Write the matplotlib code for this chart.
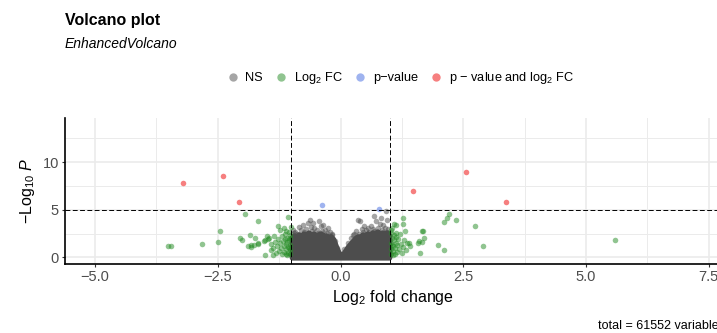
import matplotlib.pyplot as plt
from matplotlib.lines import Line2D

plt.rcParams['font.family'] = ['Liberation Sans', 'DejaVu Sans']
plt.rcParams['mathtext.fontset'] = 'custom'
plt.rcParams['mathtext.rm'] = 'Liberation Sans'
plt.rcParams['mathtext.it'] = 'Liberation Sans:italic'
plt.rcParams['mathtext.bf'] = 'Liberation Sans:bold'

# --- Données ---
# masse dense des points NS (haut de l'enveloppe, par x)
ns_env_x = [-0.99, -0.95, -0.9, -0.85, -0.8, -0.75, -0.7, -0.65, -0.6, -0.55, -0.5,
            -0.45, -0.4, -0.35, -0.3, -0.25, -0.2, -0.15, -0.1, -0.05, 0.0, 0.05,
            0.1, 0.15, 0.2, 0.25, 0.3, 0.35, 0.4, 0.45, 0.5, 0.55, 0.6, 0.65, 0.7,
            0.75, 0.8, 0.85, 0.9, 0.95, 0.99]
ns_env_top = [2.1, 2.3, 2.0, 2.4, 2.2, 2.5, 2.2, 2.6, 2.3, 2.5, 2.2,
              2.4, 2.5, 2.2, 2.3, 2.1, 2.2, 1.9, 1.2, 0.6, 0.15, 0.35,
              0.7, 1.1, 1.4, 1.7, 2.0, 2.2, 2.1, 2.4, 2.3, 2.5, 2.4, 2.6, 2.4,
              2.7, 2.5, 2.6, 2.4, 2.6, 2.3]

# points NS isolés au bord de la masse
ns_x = [-0.97, -0.92, -0.85, -0.80, -0.77, -0.70, -0.67, -0.63, -0.60, -0.56, -0.53,
        -0.48, -0.44, -0.40, -0.36, -0.32, -0.26, -0.22, -0.17, -0.12, -0.08,
        -0.95, -0.88, -0.74, -0.58, -0.45, -0.38, -0.28, -0.18,
        0.08, 0.15, 0.22, 0.28, 0.32, 0.35, 0.40, 0.43, 0.48, 0.52, 0.55, 0.62,
        0.66, 0.69, 0.72, 0.76, 0.80, 0.83, 0.86, 0.90, 0.93, 0.95, 0.97,
        0.25, 0.38, 0.45, 0.58, 0.68, 0.74, 0.85, 0.92]
ns_y = [2.9, 2.7, 3.15, 2.9, 3.43, 3.0, 3.6, 3.96, 3.2, 3.6, 3.08,
        2.9, 3.78, 3.3, 3.43, 2.9, 3.08, 2.7, 2.4, 1.7, 1.0,
        2.6, 2.5, 2.7, 2.8, 2.6, 2.8, 2.6, 2.3,
        0.9, 1.5, 2.0, 2.4, 2.8, 3.96, 3.78, 3.0, 3.3, 2.9, 3.08, 3.25,
        3.0, 4.3, 3.78, 3.1, 3.5, 4.13, 3.43, 3.1, 4.83, 3.9, 3.0,
        2.3, 2.5, 2.7, 2.7, 2.8, 2.7, 2.9, 2.7]

# Log2 FC seulement
fc_x = [-3.51, -3.46, -2.82, -2.49, -2.46, -1.94, -2.05, -2.00, -1.85, -1.75, -1.89,
        -1.82, -1.68, -1.68, -1.54, -1.83, -1.76, -1.69, -1.56, -1.54, -1.41,
        -1.02, -1.03, -1.02, -1.04, -1.03, -1.05, -1.06, -1.07, -1.08, -1.09, -1.10,
        -1.11, -1.12, -1.13, -1.14, -1.15, -1.16, -1.18, -1.19, -1.20, -1.21, -1.23,
        -1.24, -1.25, -1.27, -1.28, -1.30, -1.31, -1.33, -1.35, -1.37, -1.38, -1.42,
        -1.45, -1.47, -1.50, -1.16, -1.06, -1.01, -1.04, -1.02, -1.08, -1.12,
        1.02, 1.03, 1.02, 1.04, 1.03, 1.05, 1.06, 1.07, 1.08, 1.09, 1.10, 1.11,
        1.12, 1.13, 1.14, 1.15, 1.16, 1.18, 1.20, 1.21, 1.23, 1.25, 1.27, 1.27,
        1.28, 1.30, 1.31, 1.33, 1.35, 1.40, 1.42, 1.08, 1.04, 1.02, 1.06, 1.13,
        1.62, 1.59, 1.66, 1.71, 1.65, 1.57, 1.67, 1.98, 2.11, 2.11, 2.16, 2.20,
        2.35, 2.73, 2.91, 5.58]
fc_y = [1.2, 1.2, 1.41, 1.62, 2.77, 4.55, 2.03, 1.86, 2.38, 2.03, 1.15,
        1.33, 1.51, 3.78, 1.78, 1.12, 1.26, 1.4, 1.72, 0.25, 0.81,
        0.3, 0.8, 1.3, 1.8, 2.3, 2.7, 0.5, 1.1, 1.6, 2.0, 0.3,
        0.9, 1.4, 2.4, 1.9, 0.6, 1.2, 1.7, 0.4, 2.2, 1.0, 1.5,
        2.9, 0.7, 3.25, 1.9, 1.2, 0.5, 1.6, 2.2, 0.25, 1.0, 1.4,
        2.0, 1.9, 2.2, 3.04, 4.27, 3.2, 1.0, 2.0, 0.2, 2.8,
        0.4, 0.9, 1.5, 2.0, 2.6, 3.1, 0.7, 1.2, 1.8, 2.3, 0.3, 1.0,
        3.43, 1.5, 2.1, 0.6, 1.3, 1.9, 0.9, 2.5, 1.4, 0.5, 4.17, 3.54,
        1.1, 1.86, 2.8, 0.8, 1.5, 1.51, 1.2, 3.5, 1.3, 2.9, 0.2, 2.6,
        0.42, 1.75, 1.62, 2.03, 2.77, 1.51, 2.73, 1.33, 0.81, 3.67, 4.09, 4.55,
        3.96, 3.29, 1.2, 1.86]

# p-value seulement
p_x = [-0.37, 0.78]
p_y = [5.5, 5.05]

# p-value et Log2 FC
both_x = [-3.20, -2.40, -2.07, 1.47, 2.56, 3.38]
both_y = [7.81, 8.54, 5.84, 7.0, 8.92, 5.84]

fc_cut = 1
p_cut = 5
n_total = 61552

couleurs = ['#4d4d4d', '#228b22', '#4169e1', '#ee0000']
noms = ['NS', 'Log$_{2}$ FC', 'p\u2212value', 'p \u2212 value and log$_{2}$ FC']

# --- Figure ---
fig = plt.figure(figsize=(7.17, 3.33), dpi=100)
ax = fig.add_axes([0.0907, 0.2072, 0.915, 0.4384])

ax.fill_between(ns_env_x, 0, ns_env_top, color=couleurs[0], lw=4,
                edgecolor=couleurs[0], joinstyle='round', zorder=2)
ax.scatter(ns_x, ns_y, s=16, color=couleurs[0], alpha=0.5, lw=0, zorder=3)
ax.scatter(fc_x, fc_y, s=16, color=couleurs[1], alpha=0.5, lw=0, zorder=3)
ax.scatter(p_x, p_y, s=16, color=couleurs[2], alpha=0.5, lw=0, zorder=3)
ax.scatter(both_x, both_y, s=16, color=couleurs[3], alpha=0.5, lw=0, zorder=3)

# seuils
ax.axvline(-fc_cut, color='black', ls=(0, (5, 2.5)), lw=0.7, zorder=4)
ax.axvline(fc_cut, color='black', ls=(0, (5, 2.5)), lw=0.7, zorder=4)
ax.axhline(p_cut, color='black', ls=(0, (5, 2.5)), lw=0.7, zorder=4)

# --- Axes ---
ax.set_xlim(-5.61, 7.75)
ax.set_ylim(-0.70, 14.62)
ax.set_xticks([-5, -2.5, 0, 2.5, 5, 7.5])
ax.set_xticks([-3.75, -1.25, 1.25, 3.75, 6.25], minor=True)
ax.set_yticks([0, 5, 10])
ax.set_yticks([2.5, 7.5, 12.5], minor=True)
ax.grid(True, which='major', color='#ebebeb', lw=1.2, zorder=0)
ax.grid(True, which='minor', color='#ebebeb', lw=0.7, zorder=0)
ax.set_axisbelow(True)
ax.tick_params(which='major', length=2.5, width=0.8, color='#333333',
               labelsize=10.5, labelcolor='#4d4d4d', pad=2)
ax.tick_params(which='minor', length=0)
for c in ['top', 'right']:
    ax.spines[c].set_visible(False)
for c in ['left', 'bottom']:
    ax.spines[c].set_linewidth(1.2)
    ax.spines[c].set_color('black')

ax.set_xlabel('Log$_{2}$ fold change', fontsize=11.5, labelpad=3)
ax.set_ylabel('\u2212Log$_{10}$ $P$', fontsize=11.5, labelpad=4)

# --- Titres ---
fig.text(65 / 717, 1 - 20 / 333, 'Volcano plot', fontsize=11.5, fontweight='bold',
         va='center', ha='left')
fig.text(65 / 717, 1 - 44 / 333, 'EnhancedVolcano', fontsize=10, style='italic',
         va='center', ha='left')
fig.text(725 / 717, 1 - 326 / 333, f'total = {n_total} variables', fontsize=9,
         va='center', ha='right')

# --- Légende ---
poignees = [Line2D([], [], ls='', marker='o', markersize=6, color=c, alpha=0.5,
                   markeredgewidth=0) for c in couleurs]
fig.legend(poignees, noms, loc='center', bbox_to_anchor=(400 / 717, 1 - 78 / 333),
           ncol=4, frameon=False, fontsize=9.2, handlelength=1.0,
           handletextpad=0.5, columnspacing=0.9)

fig.savefig('out.png', dpi=100)
